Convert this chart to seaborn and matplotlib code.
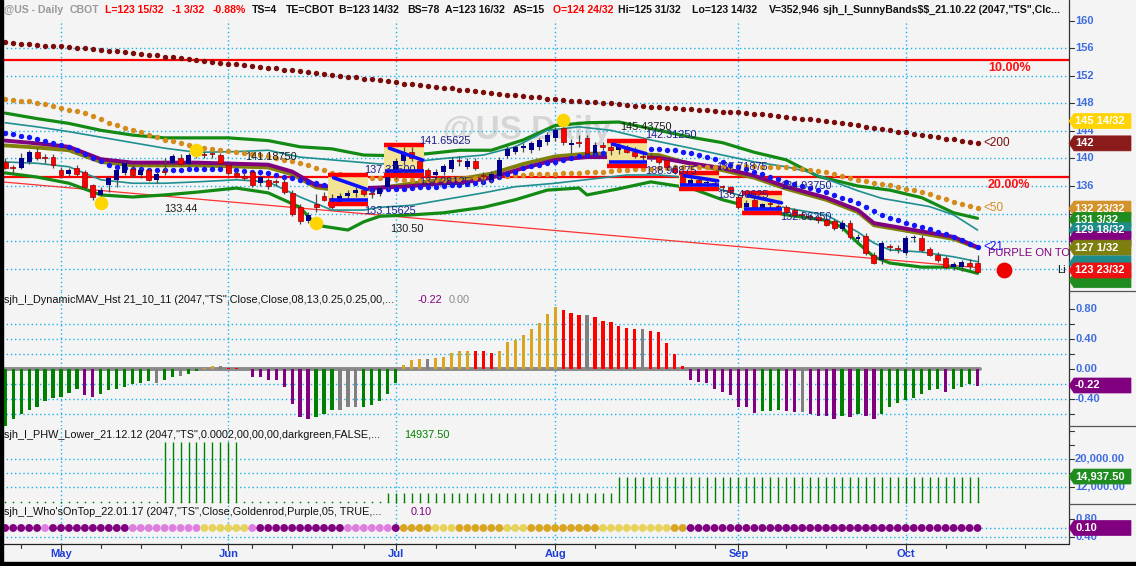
import numpy as np
import pandas as pd
import matplotlib
matplotlib.use("Agg")
import matplotlib.pyplot as plt
import seaborn as sns
from matplotlib.patches import Polygon, Rectangle
from matplotlib.lines import Line2D
from matplotlib.transforms import blended_transform_factory

# ---------------- data read off the @US daily chart ----------------
# trading days 21 Apr 2022 .. 14 Oct 2022 (123 bars)
holidays = ["2022-05-30", "2022-06-20", "2022-07-04", "2022-09-05"]
dates = pd.bdate_range("2022-04-21", "2022-10-14")
dates = dates[~dates.isin(pd.to_datetime(holidays))]

opens = [139.5, 138.6, 138.6, 139.5, 141.0, 140.0, 140.2, 138.3, 137.8, 138.6,
         138.0, 136.1, 134.7, 136.1, 136.9, 137.9, 138.5, 137.6, 138.3, 136.9,
         137.9, 139.3, 140.0, 139.2, 140.5, 140.6, 140.5, 140.5, 139.0, 137.9,
         137.5, 138.0, 136.4, 136.8, 136.6, 136.6, 135.0, 133.0, 130.9, 133.4,
         134.5, 134.3, 133.5, 134.5, 135.0, 135.4, 134.8, 134.8, 135.8, 137.3,
         139.6, 141.0, 139.6, 138.3, 137.6, 138.0, 138.4, 139.6, 138.8, 139.7,
         137.5, 136.9, 137.4, 140.4, 141.0, 141.5, 141.2, 141.6, 142.4, 143.0,
         144.4, 142.0, 142.2, 143.0, 140.8, 142.0, 141.6, 141.2, 141.6, 141.0,
         140.4, 140.2, 140.2, 139.8, 138.6, 137.6, 136.2, 136.8, 136.4, 136.3,
         135.8, 135.8, 134.4, 133.0, 134.0, 132.8, 133.4, 133.0, 132.9, 132.5,
         131.8, 131.6, 131.5, 131.1, 130.9, 129.7, 130.6, 128.3, 128.8, 126.0,
         125.2, 127.1, 126.8, 126.3, 128.4, 128.5, 126.8, 126.0, 125.5, 124.2,
         124.2, 124.8, 124.75]
highs = [140.0, 139.0, 140.8, 141.2, 141.5, 140.6, 140.6, 138.8, 138.6, 139.0,
         138.3, 136.3, 135.8, 137.4, 138.5, 139.6, 139.0, 138.6, 138.6, 138.0,
         140.0, 140.6, 140.6, 140.8, 141.2, 141.0, 141.0, 140.8, 139.3, 138.3,
         138.0, 138.3, 137.6, 137.2, 137.0, 137.0, 135.4, 133.4, 132.2, 134.8,
         135.2, 134.8, 135.0, 135.4, 135.8, 135.6, 135.4, 136.0, 137.6, 140.0,
         141.6, 141.6, 139.9, 138.6, 138.4, 139.2, 140.2, 140.4, 140.0, 140.0,
         138.0, 138.2, 140.2, 141.8, 142.0, 142.2, 142.6, 143.0, 143.8, 144.6,
         145.44, 142.8, 143.4, 143.4, 142.4, 142.4, 142.3, 142.3, 142.0, 141.6,
         141.0, 140.8, 140.5, 140.0, 139.0, 138.0, 137.2, 137.4, 137.0, 136.8,
         136.2, 136.0, 134.8, 134.0, 134.3, 133.6, 134.0, 133.4, 133.2, 132.8,
         132.4, 132.0, 131.8, 131.4, 131.2, 131.0, 131.0, 129.0, 129.2, 126.4,
         128.0, 127.6, 127.4, 128.8, 128.9, 128.9, 127.2, 126.4, 125.8, 124.9,
         125.3, 125.4, 125.97]
lows = [138.5, 137.8, 138.4, 139.2, 139.8, 139.4, 138.6, 137.4, 137.4, 137.5,
        135.5, 134.0, 133.9, 135.2, 135.8, 137.6, 137.3, 137.2, 136.7, 136.5,
        137.6, 139.0, 139.0, 139.0, 140.0, 140.0, 140.0, 139.2, 137.6, 137.2,
        136.8, 135.9, 136.0, 135.6, 136.0, 134.8, 131.6, 130.5, 130.6, 132.2,
        133.8, 132.6, 133.2, 134.0, 134.4, 134.6, 134.2, 134.5, 135.5, 137.0,
        139.0, 139.6, 137.9, 137.4, 137.0, 137.6, 138.0, 138.9, 138.4, 138.3,
        136.4, 136.4, 137.0, 140.0, 140.6, 141.0, 140.8, 141.2, 142.0, 142.6,
        142.0, 140.8, 141.6, 140.4, 140.4, 141.2, 140.5, 140.6, 140.8, 140.0,
        139.8, 139.6, 139.2, 138.4, 137.8, 136.0, 135.8, 136.0, 135.9, 135.6,
        135.2, 134.8, 132.6, 132.5, 132.6, 132.5, 132.8, 132.4, 131.9, 131.6,
        131.2, 131.0, 130.6, 130.2, 129.6, 129.4, 128.3, 127.8, 126.0, 124.6,
        124.6, 126.6, 126.2, 126.0, 127.8, 126.4, 125.8, 125.0, 124.0, 123.8,
        123.6, 123.9, 123.44]
closes = [138.6, 138.6, 140.1, 141.0, 140.0, 140.0, 139.0, 137.6, 138.3, 137.7,
          135.8, 134.4, 135.4, 137.2, 138.3, 139.4, 137.6, 138.3, 136.9, 137.7,
          138.0, 140.4, 139.2, 140.5, 140.8, 140.5, 140.6, 139.3, 137.9, 137.5,
          137.1, 136.1, 137.3, 136.0, 136.6, 135.1, 132.0, 130.9, 131.8, 133.0,
          134.0, 132.9, 134.6, 135.0, 135.4, 134.8, 134.8, 135.7, 137.3, 139.6,
          141.0, 140.0, 138.3, 137.6, 138.0, 138.9, 139.8, 139.6, 139.7, 138.6,
          137.5, 137.8, 139.8, 141.4, 141.7, 141.8, 142.2, 142.7, 143.4, 144.2,
          142.4, 142.3, 142.2, 140.8, 142.0, 141.6, 141.2, 141.8, 141.0, 140.4,
          140.2, 140.2, 139.5, 138.8, 138.0, 136.4, 136.8, 136.4, 136.6, 136.3,
          135.8, 135.2, 133.0, 133.6, 133.0, 133.4, 133.4, 133.0, 132.2, 131.8,
          131.8, 131.5, 131.0, 130.4, 129.9, 130.6, 128.6, 128.6, 126.3, 124.8,
          127.7, 127.1, 126.8, 128.5, 128.6, 126.7, 126.0, 125.3, 124.2, 124.7,
          125.0, 124.4, 123.47]

# dotted moving averages (one dot per bar)
ma200 = [156.9, 156.8, 156.7, 156.6, 156.5, 156.4, 156.3, 156.3, 156.2, 156.1,
         156.0, 155.9, 155.8, 155.7, 155.6, 155.5, 155.4, 155.2, 155.1, 155.0,
         154.8, 154.7, 154.6, 154.4, 154.3, 154.2, 154.0, 153.9, 153.8, 153.7,
         153.6, 153.4, 153.3, 153.2, 153.1, 152.9, 152.8, 152.7, 152.6, 152.4,
         152.3, 152.2, 152.0, 151.9, 151.8, 151.6, 151.5, 151.4, 151.2, 151.1,
         150.9, 150.8, 150.7, 150.6, 150.4, 150.3, 150.2, 150.0, 149.9, 149.8,
         149.7, 149.5, 149.4, 149.3, 149.2, 149.1, 149.0, 148.9, 148.7, 148.6,
         148.5, 148.4, 148.3, 148.2, 148.2, 148.1, 148.0, 147.9, 147.8, 147.7,
         147.6, 147.5, 147.5, 147.4, 147.3, 147.2, 147.2, 147.1, 147.0, 146.9,
         146.8, 146.7, 146.7, 146.6, 146.5, 146.4, 146.3, 146.2, 146.1, 145.9,
         145.8, 145.7, 145.6, 145.4, 145.3, 145.1, 145.0, 144.8, 144.6, 144.5,
         144.3, 144.1, 143.9, 143.8, 143.6, 143.4, 143.3, 143.1, 142.9, 142.8,
         142.6, 142.4, 142.2]
ma50 = [148.6, 148.5, 148.4, 148.3, 148.1, 147.9, 147.6, 147.4, 147.1, 146.9,
        146.6, 146.2, 145.7, 145.2, 144.8, 144.4, 144.1, 143.8, 143.4, 143.1,
        142.7, 142.5, 142.2, 142.0, 141.7, 141.5, 141.4, 141.2, 141.1, 140.9,
        140.8, 140.6, 140.5, 140.3, 140.1, 139.8, 139.6, 139.3, 139.0, 138.6,
        138.3, 137.9, 137.7, 137.6, 137.4, 137.3, 137.2, 137.1, 137.0, 137.0,
        136.9, 136.9, 136.9, 136.9, 136.9, 136.9, 137.0, 137.0, 137.1, 137.2,
        137.3, 137.3, 137.4, 137.5, 137.6, 137.6, 137.7, 137.7, 137.8, 137.8,
        137.9, 137.9, 137.9, 138.0, 138.1, 138.1, 138.2, 138.3, 138.3, 138.4,
        138.5, 138.5, 138.6, 138.6, 138.7, 138.7, 138.7, 138.8, 138.8, 138.8,
        138.8, 138.8, 138.9, 138.9, 138.9, 138.8, 138.8, 138.8, 138.7, 138.6,
        138.5, 138.3, 138.2, 138.0, 137.8, 137.5, 137.2, 136.9, 136.7, 136.5,
        136.3, 136.1, 135.9, 135.6, 135.4, 135.1, 134.8, 134.4, 134.1, 133.7,
        133.4, 133.1, 132.8]
ma21 = [143.7, 143.5, 143.3, 143.1, 142.9, 142.6, 142.3, 142.0, 141.7, 141.2,
        140.6, 140.1, 139.6, 139.1, 138.8, 138.6, 138.5, 138.4, 138.3, 138.3,
        138.3, 138.3, 138.3, 138.4, 138.4, 138.4, 138.4, 138.4, 138.3, 138.3,
        138.2, 138.1, 138.0, 137.9, 137.6, 137.3, 137.1, 136.9, 136.6, 136.4,
        136.2, 136.0, 135.8, 135.7, 135.5, 135.4, 135.4, 135.4, 135.5, 135.6,
        135.6, 135.7, 135.8, 135.9, 135.9, 136.0, 136.1, 136.2, 136.3, 136.4,
        136.6, 136.9, 137.3, 137.7, 138.1, 138.6, 138.9, 139.1, 139.3, 139.5,
        139.8, 140.0, 140.3, 140.5, 140.7, 140.8, 141.0, 141.1, 141.2, 141.3,
        141.4, 141.4, 141.4, 141.3, 141.2, 141.0, 140.8, 140.5, 140.2, 139.9,
        139.5, 139.1, 138.8, 138.4, 138.0, 137.7, 137.3, 137.0, 136.6, 136.3,
        136.0, 135.7, 135.4, 135.1, 134.7, 134.3, 133.9, 133.5, 132.9, 132.4,
        131.8, 131.3, 131.0, 130.6, 130.3, 130.0, 129.7, 129.3, 129.0, 128.6,
        128.1, 127.6, 127.1]

# SunnyBands lines (bar index, price)
gu_i = [0, 4, 8, 12, 16, 20, 24, 28, 33, 37, 41, 45, 49, 53, 57, 61, 65, 69, 73, 77,
        82, 86, 90, 94, 98, 102, 107, 111, 115, 119, 122]
gu_p = [146.6, 145.8, 145.1, 144.1, 143.4, 143.0, 143.0, 143.0, 142.6, 141.7, 141.4,
        140.5, 140.4, 140.7, 141.2, 141.2, 142.7, 144.8, 145.2, 145.3, 144.1, 143.1,
        142.3, 140.9, 139.8, 137.4, 136.0, 135.4, 134.3, 132.1, 131.3]
tu_i = [0, 4, 8, 12, 16, 20, 24, 29, 33, 37, 41, 47, 51, 55, 60, 64, 68, 72, 76, 81,
        86, 90, 94, 98, 101, 104, 107, 110, 113, 116, 119, 122]
tu_p = [145.2, 144.6, 143.9, 143.1, 142.3, 141.5, 140.9, 141.0, 141.2, 140.2,
        139.8, 139.2, 139.5, 140.0, 140.5, 141.7, 144.1, 144.6, 144.1, 142.7,
        141.5, 140.5, 139.5, 138.8, 138.0, 136.6, 135.3, 134.2, 133.6, 133.0,
        131.8, 129.6]
mid_i = [0, 4, 8, 12, 16, 24, 33, 36, 39, 41, 45, 50, 54, 58, 61, 65, 69, 73, 77, 82,
         86, 90, 94, 98, 103, 107, 109, 111, 115, 119, 122]
purple_p = [142.6, 142.2, 141.7, 139.9, 139.4, 139.4, 139.1, 138.1, 136.1, 135.9,
            135.7, 135.9, 136.3, 136.6, 137.2, 138.6, 139.8, 140.2, 140.2, 140.1,
            139.3, 138.6, 137.5, 135.9, 134.3, 132.5, 130.6, 130.2, 129.4, 128.6, 127.1]
olive_p = [141.9, 141.6, 141.2, 139.5, 139.0, 139.0, 138.7, 137.7, 135.8, 135.5,
           135.4, 136.2, 136.8, 137.2, 137.8, 139.2, 140.3, 140.7, 140.7, 140.5,
           139.2, 138.3, 137.2, 135.6, 134.0, 132.2, 130.3, 129.9, 129.1, 128.3, 127.0]
tl_i = [0, 4, 8, 12, 16, 20, 24, 29, 33, 37, 41, 45, 47, 51, 55, 60, 64, 69, 78, 82,
        86, 90, 94, 98, 103, 107, 109, 111, 115, 119, 122]
tl_p = [139.5, 139.3, 138.8, 136.9, 136.4, 136.4, 136.6, 136.9, 136.6, 134.4,
        132.5, 132.5, 132.9, 133.2, 134.0, 135.0, 135.9, 136.4, 137.6, 137.6,
        137.2, 135.4, 134.0, 132.8, 131.8, 129.3, 127.7, 126.7, 126.4, 125.7, 125.0]
gl_i = [0, 4, 8, 12, 16, 20, 24, 29, 33, 37, 39, 43, 45, 47, 51, 55, 60, 64, 68, 72,
        73, 77, 81, 86, 90, 94, 98, 103, 105, 107, 109, 111, 115, 119, 122]
gl_p = [137.9, 137.3, 136.4, 134.7, 134.4, 134.7, 135.1, 135.7, 135.0, 132.9,
        130.3, 129.6, 130.8, 131.6, 131.8, 132.1, 132.9, 134.0, 135.4, 135.7,
        134.7, 135.6, 136.6, 135.7, 134.0, 132.8, 131.8, 131.0, 130.0, 127.7,
        125.7, 124.8, 124.2, 124.2, 123.3]

trend_i = [-0.4, 122.3]
trend_p = [136.6, 124.1]
pct_levels = [154.33, 137.3]
pct_labels = ["10.00%", "20.00%"]

# pattern boxes (first bar, last bar, top, bottom)
box_i0 = [41, 48, 76, 85, 93]
box_i1 = [45, 52, 80, 89, 97]
box_top = [137.6, 141.9, 142.5, 137.9, 135.0]
box_bot = [133.4, 137.6, 138.9, 135.6, 132.1]

# yellow pivot dots
piv_i = [12, 24, 39, 70]
piv_p = [133.5, 141.2, 130.6, 145.6]

# swing labels
lab_i = [30.1, 20.0, 45.1, 52.0, 45.1, 48.3, 52.0, 77.1, 80.3, 80.3, 89.2, 89.3, 97.2, 97.2]
lab_p = [140.2, 132.7, 138.3, 142.5, 132.4, 129.7, 136.6, 144.6, 143.4, 138.2, 138.8, 134.7, 136.0, 131.5]
lab_txt = ["141.18750", "133.44", "137.37500", "141.65625", "133.15625", "130.50", "137.28125",
           "145.43750", "142.31250", "138.96875", "137.71875", "135.40625", "134.93750", "132.06250"]
lab_navy = [0, 0, 1, 1, 1, 0, 1, 0, 1, 1, 1, 1, 1, 1]

# DynamicMAV histogram
hist = [-0.80, -0.67, -0.60, -0.55, -0.50, -0.43, -0.38, -0.37, -0.32, -0.26,
        -0.35, -0.37, -0.33, -0.28, -0.26, -0.24, -0.20, -0.19, -0.16, -0.18,
        -0.15, -0.10, -0.09, -0.06, -0.02, 0.01, 0.04, 0.04, 0.02, 0.01,
        0.0, -0.10, -0.10, -0.14, -0.15, -0.24, -0.46, -0.64, -0.66, -0.64,
        -0.60, -0.55, -0.55, -0.51, -0.51, -0.50, -0.48, -0.43, -0.33, -0.18,
        0.05, 0.12, 0.13, 0.14, 0.15, 0.16, 0.22, 0.24, 0.24, 0.24,
        0.24, 0.22, 0.24, 0.36, 0.39, 0.46, 0.53, 0.62, 0.73, 0.83,
        0.79, 0.75, 0.72, 0.72, 0.69, 0.64, 0.63, 0.57, 0.55, 0.54,
        0.54, 0.51, 0.49, 0.35, 0.20, 0.04, -0.15, -0.17, -0.18, -0.26,
        -0.30, -0.35, -0.50, -0.50, -0.58, -0.56, -0.56, -0.54, -0.56, -0.57,
        -0.57, -0.60, -0.62, -0.63, -0.67, -0.63, -0.64, -0.60, -0.63, -0.67,
        -0.60, -0.51, -0.45, -0.41, -0.38, -0.33, -0.28, -0.27, -0.30, -0.27,
        -0.24, -0.20, -0.22]
hist_codes = ("GGGGGGGGGG" "PP" "GGGGGGG" "A" "GG" "A" "GG" "OO" "A" "RR" "A"
              "PPPPPPPP" "GGG" "AAA" "GGGGG" "OOO" "A" "OOOOO" "RRR" "OOOOOOOO"
              "RRR" "A" "RRRRRR" "A" "RRRRR" "PPPPPPPPP" "GGG" "PP" "A" "PPPP"
              "G" "P" "G" "PP" "GGGGGGGG" "P" "GGG" "P")

# PHW lower
phw_base = 7700
phw = [7700] * 20 + [25000] * 10 + [7700] * 18 + [10180] * 29 + [14937.5] * 46

# Who's on top
who_codes = ("DDDDD" "L" "DDDDDDDDDD" "LLLLLLLLL" "YYYYYY" "L" "DDDDDDDDDDD"
             "LLLLLL" "D" "OOOO" "YYY" "OOOOOO" "YYY" "OOOOOOOOO" "YYYYYYYYY"
             "OO" + "D" * 37)

month_lab = ["May", "Jun", "Jul", "Aug", "Sep", "Oct"]
week_ticks = [2, 12, 17, 22, 31, 36, 41, 45, 54, 59, 64, 74, 79, 84, 89, 98, 103, 108, 118, 123, 128]

# ---------------- styling ----------------
sns.set_theme(style="white")
plt.rcParams["font.family"] = ["Liberation Sans", "DejaVu Sans"]

W, H = 1136, 566
BG = "#f4f4f4"
GRID = "#1ab2ee"
AXBLUE = "#3f6de0"
NAVY = "#1c1c8a"
DOT = (0, (1, 2))
XMIN, XMAX = (2 - 5.2) / 7.97, (1069 - 5.2) / 7.97

idx = np.arange(len(closes))
month_idx = [int(np.argmax(dates.month == m)) for m in range(5, 11)]

fig = plt.figure(figsize=(W / 100, H / 100), dpi=100, facecolor=BG)


def panel(top, bottom, ylim):
    ax = fig.add_axes([2 / W, 1 - bottom / H, 1067 / W, (bottom - top) / H])
    ax.set_facecolor(BG)
    for s in ax.spines.values():
        s.set_visible(False)
    ax.set_xlim(XMIN, XMAX)
    ax.set_ylim(*ylim)
    ax.set_xticks([])
    ax.set_yticks([])
    return ax


ax_p = panel(0, 291, (120.73, 163.05))
ax_h = panel(291, 426, (-0.76, 1.04))
ax_v = panel(426, 504, (7004, 29530))
ax_w = panel(504, 544, (0.244, 1.133))


def ypx(ax, v):
    return H - ax.transData.transform((0, v))[1]


def fy(y):
    return 1 - y / H


# grids
ax_p.hlines(np.arange(124, 157, 4), XMIN, XMAX, colors=GRID, linestyles=DOT, lw=1, zorder=1)
ax_p.vlines(month_idx, 120.73, 160.2, colors=GRID, linestyles=DOT, lw=1, zorder=1)
ax_h.hlines([-0.6, -0.4, -0.2, 0.2, 0.4, 0.6], XMIN, XMAX, colors=GRID, linestyles=DOT, lw=1, zorder=1)
ax_v.hlines([12000, 16000, 20000], XMIN, XMAX, colors=GRID, linestyles=DOT, lw=1, zorder=1)
ax_w.hlines([0.6, 0.4], XMIN, XMAX, colors=GRID, linestyles=DOT, lw=1, zorder=1)
for a in (ax_h, ax_v, ax_w):
    lo, hi = a.get_ylim()
    a.vlines(month_idx, lo, hi, colors=GRID, linestyles=DOT, lw=1, zorder=1)

# watermark
ax_p.text(443 / W, fy(130), "@US Daily", transform=fig.transFigure, fontsize=24,
          fontweight="bold", color="#d6d6d6", va="center", ha="left", zorder=0.5)

# horizontal % lines and trend line
ax_p.hlines(pct_levels, XMIN, XMAX, colors="#ff0000", lw=1.6, zorder=2)
for lv, lb in zip(pct_levels, pct_labels):
    ax_p.text(123.3, lv - 0.35, lb, color="#ff1010", fontsize=9, fontweight="bold", va="top", zorder=7)
ax_p.plot(trend_i, trend_p, color="#ff3030", lw=0.9, zorder=2)

# bands
band_df = [
    (gu_i, gu_p, "#138a13", 2.3),
    (gl_i, gl_p, "#138a13", 2.3),
    (tu_i, tu_p, "#1f8f8f", 1.2),
    (tl_i, tl_p, "#1f8f8f", 1.2),
    (mid_i, olive_p, "#80800a", 2.8),
    (mid_i, purple_p, "#800080", 2.8),
]
for xs, ys, col, lw in band_df:
    sns.lineplot(x=xs, y=ys, ax=ax_p, color=col, lw=lw, estimator=None, sort=False,
                 legend=False, zorder=3)

# dotted moving averages
for vals, col in [(ma200, "#7a0c0c"), (ma50, "#d48c1c"), (ma21, "#1414ff")]:
    sns.scatterplot(x=idx, y=vals, ax=ax_p, color=col, s=15, linewidth=0, legend=False, zorder=3.5)

# pattern boxes (under candles) and their bars
for a0, a1, t, b in zip(box_i0, box_i1, box_top, box_bot):
    ax_p.add_patch(Rectangle((a0 - 0.5, b), a1 - a0 + 1, t - b, facecolor="#f3e394",
                             edgecolor="none", zorder=4.2))
    ax_p.plot([a0 - 0.5, a1 + 0.5], [t, t], color="#ff0000", lw=3.2, solid_capstyle="butt", zorder=6)
    ax_p.plot([a0 - 0.5, a1 + 0.5], [b, b], color="#ff0000", lw=3.2, solid_capstyle="butt", zorder=6)
    ax_p.plot([a0 - 0.3, a1 + 0.5], [b + 0.55, b + 0.55], color="#1010ff", lw=2.6,
              solid_capstyle="butt", zorder=6)
    ax_p.plot([a0 + 0.2, a1 + 0.4], [t - 0.4, (t + b) / 2], color="#1010ff", lw=2.6, zorder=6)

# candles
df = pd.DataFrame({"i": idx, "o": opens, "h": highs, "l": lows, "c": closes})
up = df.c > df.o + 0.12
dn = df.c < df.o - 0.12
dj = ~(up | dn)
ax_p.vlines(df.i, df.l, df.h, color="#4a4a4a", lw=0.9, zorder=4.5)
ax_p.bar(df.i[up], (df.c - df.o)[up], bottom=df.o[up], width=0.62, color="#00008c", lw=0, zorder=5)
ax_p.bar(df.i[dn], (df.o - df.c)[dn], bottom=df.c[dn], width=0.62, color="#ff0000",
         edgecolor="#9a0000", lw=0.5, zorder=5)
ax_p.hlines(df.c[dj], df.i[dj] - 0.35, df.i[dj] + 0.35, color="#b00000", lw=1.2, zorder=5)

# pivot dots, labels
ax_p.scatter(piv_i, piv_p, s=95, color="#ffd500", lw=0, zorder=6)
for x, y, t, nv in zip(lab_i, lab_p, lab_txt, lab_navy):
    ax_p.text(x, y, t, fontsize=7.8, color=NAVY if nv else "#1a1a1a", va="center", ha="left", zorder=7)

ax_p.text(122.7, ma200[-1], "<200", color="#7a0c0c", fontsize=8.5, va="center", zorder=7)
ax_p.text(122.7, ma50[-1], "<50", color="#d48c1c", fontsize=8.5, va="center", zorder=7)
ax_p.text(122.7, ma21[-1] + 0.1, "<21", color="#1414ff", fontsize=8.5, va="center", zorder=7)
ax_p.text(123.3, 126.3, "PURPLE ON TOP", color="#800080", fontsize=8, va="center", zorder=7, clip_on=True)
ax_p.scatter([125.3], [123.8], s=130, color="#ee0000", lw=0, zorder=7)
ax_p.text(132.0, 123.8, "Li", color="#111111", fontsize=8, va="center", zorder=7, clip_on=True)

# histogram
hcol = {"G": "#008000", "P": "#800080", "A": "#808080", "O": "#daa520", "R": "#ff0000"}
ax_h.bar(idx, hist, width=0.4, color=[hcol[c] for c in hist_codes], lw=0, zorder=3)
ax_h.plot([XMIN, idx[-1] + 0.3], [0, 0], color="#8a8a8a", lw=2.8, zorder=2.5)

# PHW
ax_v.vlines(idx, phw_base, phw, color="#008000", lw=1, zorder=3)
ax_v.scatter(idx, [phw_base] * len(idx), s=1.5, color="#008000", lw=0, zorder=3)

# Who's on top dots
wcol = {"D": "#800080", "L": "#e07ee0", "Y": "#e8d35a", "O": "#daa520"}
sns.scatterplot(x=idx, y=[0.6] * len(idx), hue=list(who_codes), palette=wcol, ax=ax_w,
                s=32, linewidth=0, legend=False, zorder=3)

# ---------------- frame, axes lines ----------------
fig.add_artist(Line2D([1069 / W] * 2, [fy(0), fy(544)], transform=fig.transFigure, color="#333333", lw=0.9))
fig.add_artist(Line2D([0, 1069 / W], [fy(544)] * 2, transform=fig.transFigure, color="#222222", lw=0.9))
for y in (291, 426, 504):
    fig.add_artist(Line2D([1069 / W, 1], [fy(y)] * 2, transform=fig.transFigure, color="#555555", lw=0.9))
fig.add_artist(Rectangle((0, 0), 2.5 / W, 1, transform=fig.transFigure, color="black", zorder=10))
fig.add_artist(Rectangle((0, 0), 1, 4 / H, transform=fig.transFigure, color="black", zorder=10))

# x axis ticks / month labels
bx = blended_transform_factory(ax_w.transData, fig.transFigure)
for t in week_ticks:
    fig.add_artist(Line2D([t, t], [fy(544), fy(548)], transform=bx, color="#333333", lw=0.8))
for m, lb in zip(month_idx, month_lab):
    fig.add_artist(Line2D([m, m], [fy(544), fy(550)], transform=bx, color="#333333", lw=0.8))
    fig.text(m, fy(554), lb, transform=bx, ha="center", va="center", fontsize=8,
             fontweight="bold", color="#1f3fd8")


def rlabels(ax, vals, texts, ticks):
    for v in ticks:
        y = ypx(ax, v)
        fig.add_artist(Line2D([1069 / W, 1074 / W], [fy(y)] * 2, transform=fig.transFigure,
                              color="#333333", lw=0.8))
    for v, t in zip(vals, texts):
        fig.text(1075 / W, fy(ypx(ax, v)), t, color=AXBLUE, fontsize=8, fontweight="bold",
                 va="center", ha="left", zorder=4)


def tag(ax, v, text, color, y=None):
    y = ypx(ax, v) if y is None else y
    x0, x1, h = 1069, 1131, 7.5
    pts = [(x0, y), (x0 + 5, y - h), (x1, y - h), (x1, y + h), (x0 + 5, y + h)]
    fig.add_artist(Polygon([(x / W, fy(yy)) for x, yy in pts], closed=True, transform=fig.transFigure,
                           facecolor=color, edgecolor=color, lw=0.5, zorder=5))
    if text:
        fig.text((x0 + 6) / W, fy(y), text, color="white", fontsize=8, fontweight="bold",
                 va="center", ha="left", zorder=6)


price_ticks = [160, 156, 152, 148, 144, 140, 136, 132, 128, 124]
rlabels(ax_p, price_ticks[:7], [str(v) for v in price_ticks[:7]], price_ticks)
rlabels(ax_h, [0.8, 0.4, 0.0, -0.4], ["0.80", "0.40", "0.00", "-0.40"], [0.8, 0.6, 0.4, 0.2, 0, -0.2, -0.4, -0.6])
rlabels(ax_v, [20000, 12000], ["20,000.00", "12,000.00"], [28000, 24000, 20000, 16000, 12000])
rlabels(ax_w, [0.8, 0.4], ["0.80", "0.40"], [0.8, 0.4])

price_tags = [
    (145.44, "145 14/32", "#ffd400"),
    (142.2, "142", "#8b1a1a"),
    (132.72, "132 23/32", "#d4922a"),
    (131.1, "131 3/32", "#1f8c1f"),
    (129.56, "129 18/32", "#1f8c8c"),
    (128.3, "", "#800080"),
    (127.03, "127 1/32", "#7f7f10"),
    (122.3, "", "#1f8c1f"),
    (124.75, "", "#1f8c8c"),
    (123.72, "123 23/32", "#ee1010"),
]
for v, t, c in price_tags:
    tag(ax_p, v, t, c)
tag(ax_h, hist[-1], "-0.22", "#800080")
tag(ax_v, phw[-1], "14,937.50", "#1f8c1f")
tag(ax_w, 0.6, "0.10", "#800080")

# ---------------- header / study titles ----------------
header = [
    ("@US - Daily", 3.6, "#9a9a9a"), ("CBOT", 70, "#9a9a9a"),
    ("L=123 15/32", 105, "#ff0000"), ("-1 3/32", 172, "#ff0000"), ("-0.88%", 212.5, "#ff0000"),
    ("TS=4", 252, "#111111"), ("TE=CBOT", 286, "#111111"), ("B=123 14/32", 339, "#111111"),
    ("BS=78", 407, "#111111"), ("A=123 16/32", 445, "#111111"), ("AS=15", 512.5, "#111111"),
    ("O=124 24/32", 553, "#ff0000"), ("Hi=125 31/32", 618, "#111111"),
    ("Lo=123 14/32", 692, "#111111"), ("V=352,946", 769, "#111111"),
    ('sjh_I_SunnyBands$$_21.10.22 (2047,"TS",Clc...', 823, "#111111"),
]
for t, x, c in header:
    fig.text(x / W, fy(10), t, color=c, fontsize=7.6, fontweight="bold", va="center",
             ha="left", parse_math=False)

titles = [
    ('sjh_I_DynamicMAV_Hst 21_10_11 (2047,"TS",Close,Close,08,13,0.25,0.25,00,...', 3.6, 300, "#111111"),
    ("-0.22", 418, 300, "#800080"), ("0.00", 449, 300, "#8a8a8a"),
    ('sjh_I_PHW_Lower_21.12.12 (2047,"TS",0.0002,00,00,00,darkgreen,FALSE,...', 3.6, 435, "#111111"),
    ("14937.50", 404, 435, "#008000"),
    ("sjh_I_Who'sOnTop_22.01.17 (2047,\"TS\",Close,Goldenrod,Purple,05, TRUE,...", 3.6, 512, "#111111"),
    ("0.10", 411, 512, "#800080"),
]
for t, x, y, c in titles:
    fig.text(x / W, fy(y), t, color=c, fontsize=7.8, va="center", ha="left", parse_math=False)

fig.savefig("out.png", dpi=100, facecolor=BG)
